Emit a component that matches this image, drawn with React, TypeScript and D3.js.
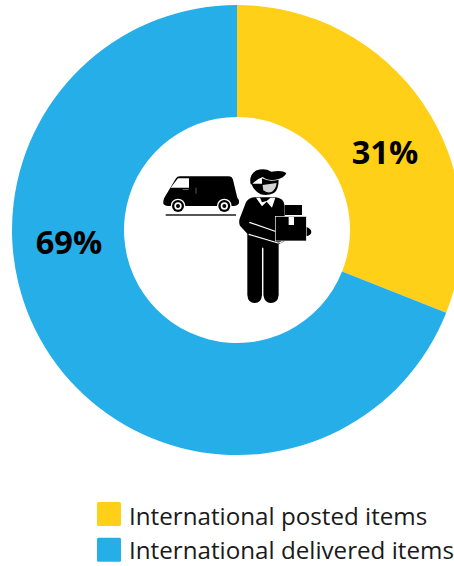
import React from "react";
import * as d3 from "d3";

const categories = ["International posted items", "International delivered items"];
const shares = [31, 69];
const colours = ["#FFD017", "#25AEE8"];
const labelAnchors = [
  { x: 385, y: 164 },
  { x: 69, y: 254 },
];

const FONT = "'Open Sans', sans-serif";

function Wheel({ x }: { x: number }) {
  return (
    <g>
      <circle cx={x} cy={153} r={22} fill="#fff" />
      <circle cx={x} cy={153} r={18} fill="#000" />
      <circle cx={x} cy={153} r={11} fill="#fff" />
      <circle cx={x} cy={153} r={6} fill="#000" />
    </g>
  );
}

// Courier and van pictogram, drawn in a 3x local grid.
function CourierIcon() {
  return (
    <g transform="translate(150,155) scale(0.3333)">
      {/* van */}
      <path d="M40 138 Q42 128 48 120 L78 70 Q81 64 90 64 L236 64 Q246 64 249 74 L262 128 Q270 136 266 146 Q262 153 244 153 L60 153 Q44 153 40 146 Z" fill="#000" />
      <path d="M62 98 L84 70 L117 70 L117 98 Z" fill="#fff" />
      <rect x="136" y="98" width="4" height="18" fill="#444" />
      <rect x="98" y="102" width="18" height="3" fill="#666" />
      <Wheel x={84} />
      <Wheel x={223} />
      <rect x="47" y="178" width="211" height="4" fill="#000" />

      {/* cap */}
      <path d="M302 88 Q296 58 320 46 Q344 38 364 50 Q396 44 409 54 Q404 70 376 74 Q352 78 338 66 Q320 72 306 88 Z" fill="#000" />
      {/* face and mask */}
      <path d="M304 86 L336 86 L336 70 Q358 82 386 74 Q386 104 372 114 Q352 124 332 118 Q312 108 304 86 Z" fill="#000" />
      <path d="M338 90 L380 84 Q378 102 366 110 Q352 116 340 106 Z" fill="#d4d4d4" />

      {/* torso and legs */}
      <path d="M312 127 L378 127 Q402 130 404 152 L404 258 L386 268 L386 420 Q384 444 362 444 Q344 444 340 420 L340 280 L336 280 L336 420 Q334 444 314 444 Q294 444 292 420 L292 236 L270 212 Q265 200 270 188 L288 142 Q296 128 312 127 Z" fill="#000" />
      {/* collar */}
      <path d="M318 128 L336 154 L350 140 L366 158 L376 128 L362 128 L350 138 L336 142 L330 128 Z" fill="#fff" />
      <path d="M338 278 L338 424" stroke="#fff" strokeWidth="3" fill="none" />
      {/* forearm outline */}
      <path d="M298 202 L390 234 Q404 242 400 254 Q396 264 384 264 L296 238" fill="none" stroke="#fff" strokeWidth="3.5" />

      {/* parcels */}
      <rect x="405" y="150" width="51" height="30" fill="#000" />
      <rect x="376" y="184" width="93" height="74" fill="#000" stroke="#fff" strokeWidth="2" />
      <rect x="416" y="186" width="16" height="24" fill="#fff" />
      <path d="M470 216 Q484 222 484 231 Q484 240 470 244 Z" fill="#000" />
    </g>
  );
}

export default function App() {
  const cx = 237;
  const cy = 230;
  const pie = d3.pie<number>().sort(null).value((d) => d);
  const arc = d3.arc<d3.PieArcDatum<number>>().innerRadius(113).outerRadius(225);
  const slices = pie(shares);

  return (
    <svg
      width={454}
      height={566}
      viewBox="0 0 454 566"
      style={{ position: "absolute", left: 0, top: 0, display: "block", background: "#fff" }}
    >
      <g transform={`translate(${cx},${cy})`}>
        {slices.map((s, i) => (
          <path key={categories[i]} d={arc(s) ?? ""} fill={colours[i]} />
        ))}
      </g>
      {shares.map((v, i) => (
        <text
          key={v}
          x={labelAnchors[i].x}
          y={labelAnchors[i].y}
          textAnchor="middle"
          fontFamily={FONT}
          fontWeight={700}
          fontSize={32.5}
          fill="#000"
        >
          {v}%
        </text>
      ))}
      <CourierIcon />
      {categories.map((c, i) => (
        <g key={c}>
          <rect x={97} y={502 + i * 35.7} width={24} height={24} rx={1.5} fill={colours[i]} />
          <text x={129} y={525 + i * 33.7} fontFamily={FONT} fontSize={24.2} fill="#1a1a1a">
            {c}
          </text>
        </g>
      ))}
    </svg>
  );
}
